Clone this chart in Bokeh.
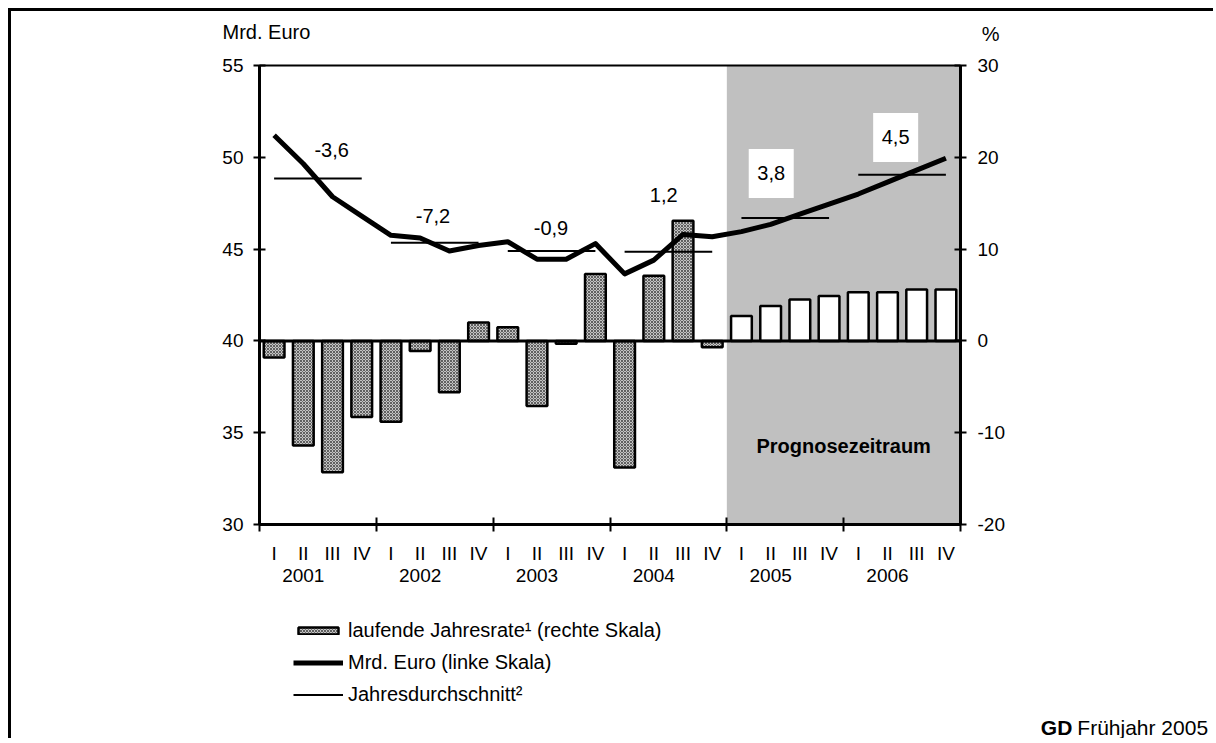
from bokeh.plotting import figure
from bokeh.models import (Range1d, LinearAxis, FixedTicker, BoxAnnotation, LabelSet,
                          Label, ColumnDataSource, Legend, LegendItem)
from bokeh.embed import file_html
from bokeh.resources import INLINE
from bokeh.core.properties import value

# ---------------- data ----------------
years = ["2001", "2002", "2003", "2004", "2005", "2006"]
quarters = ["I", "II", "III", "IV"]
forecast_from = "2005"

# laufende Jahresrate (%, right scale) - observed quarters 2001-2004
rate_hist = [-1.8, -11.4, -14.3, -8.3,
             -8.8, -1.1, -5.6, 2.0,
             1.5, -7.1, -0.3, 7.3,
             -13.8, 7.1, 13.1, -0.7]
# forecast quarters 2005-2006
rate_fcst = [2.7, 3.8, 4.5, 4.9,
             5.3, 5.3, 5.6, 5.6]

# Mrd. Euro (left scale)
level_bn = [51.2, 49.65, 47.85, 46.8,
            45.75, 45.6, 44.9, 45.2,
            45.4, 44.45, 44.45, 45.3,
            43.65, 44.4, 45.8, 45.67,
            45.95, 46.35, 46.9, 47.45,
            48.0, 48.65, 49.3, 49.95]

# Jahresdurchschnitt (Mrd. Euro)
annual_avg = [48.85, 45.35, 44.9, 44.85, 46.7, 49.05]
growth_text = ["-3,6", "-7,2", "-0,9", "1,2", "3,8", "4,5"]

left_ticks = [30, 35, 40, 45, 50, 55]
right_ticks = [-20, -10, 0, 10, 20, 30]

# layout: anchor of the growth labels (quarter units, Mrd. Euro)
growth_pos_x = [2.47, 5.94, 9.98, 13.84, 17.52, 21.78]
growth_pos_y = [50.42, 46.79, 46.14, 47.95, 49.12, 51.08]

FONT = "Liberation Sans"
nq = len(quarters)
n_total = len(years) * nq
f_start = years.index(forecast_from) * nq
L0, L1 = left_ticks[0], left_ticks[-1]
R0, R1 = right_ticks[0], right_ticks[-1]

# ---------------- canvas geometry (px) ----------------
W, H = 1205, 730
PL, PR, PT, PB = 248, 949, 54, 513       # visible plot box inside the canvas
kx = (PR - PL) / n_total
ky = (PB - PT) / (L1 - L0)
x_start, x_end = -PL / kx, (W - PL) / kx
y_start, y_end = L0 - (H - PB) / ky, L1 + PT / ky
# right scale is a linear map of the left one
rs = (R1 - R0) / (L1 - L0)
to_pct = lambda v: R0 + (v - L0) * rs

p = figure(width=W, height=H, x_range=Range1d(x_start, x_end), y_range=Range1d(y_start, y_end),
           output_backend="svg", toolbar_location=None,
           min_border_left=0, min_border_right=0, min_border_top=0, min_border_bottom=0)
p.styles = {"margin-left": "8px", "margin-top": "8px",
            "border-top": "3px solid black", "border-left": "3px solid black",
            "border-right": "0px none", "border-bottom": "0px none"}
p.xgrid.visible = False
p.ygrid.visible = False
p.outline_line_color = None
p.outline_line_alpha = 0
p.outline_line_width = 0
p.background_fill_color = "white"
p.border_fill_color = "white"
p.extra_y_ranges = {"pct": Range1d(to_pct(y_start), to_pct(y_end))}


def style_axis(ax):
    ax.major_label_text_font = FONT
    ax.major_label_text_font_size = "19px"
    ax.major_label_text_color = "black"
    ax.axis_line_width = 3
    ax.axis_line_color = "black"
    ax.major_tick_line_width = 2
    ax.major_tick_line_color = "black"
    ax.major_tick_in = 6
    ax.major_tick_out = 6
    ax.minor_tick_line_color = None


yl = p.yaxis[0]
yl.fixed_location = 0
yl.bounds = (L0, L1)
yl.ticker = FixedTicker(ticks=left_ticks)
yl.major_label_overrides = {t: str(t) for t in left_ticks}
style_axis(yl)
yl.major_label_standoff = 10

yr = LinearAxis(y_range_name="pct", ticker=FixedTicker(ticks=right_ticks),
                fixed_location=n_total, bounds=(R0, R1),
                major_label_overrides={t: str(t) for t in right_ticks})
style_axis(yr)
yr.major_label_standoff = 11
p.add_layout(yr, "right")

# bottom axis: quarter labels as major labels, year boundaries as minor ticks
q_centers = [i + 0.5 for i in range(n_total)]
xa = p.xaxis[0]
xa.fixed_location = L0
xa.bounds = (0, n_total)
xa.ticker = FixedTicker(ticks=q_centers, minor_ticks=list(range(0, n_total + 1, nq)))
xa.major_label_overrides = {c: quarters[i % nq] for i, c in enumerate(q_centers)}
style_axis(xa)
xa.major_tick_in = 0
xa.major_tick_out = 0
xa.major_tick_line_color = None
xa.minor_tick_line_color = "black"
xa.minor_tick_line_width = 2
xa.minor_tick_in = 7
xa.minor_tick_out = 7
xa.major_label_standoff = 11

y_centers = [k * nq + 1.5 for k in range(len(years))]
ya = LinearAxis(fixed_location=L0, ticker=FixedTicker(ticks=y_centers),
                major_label_overrides={c: years[k] for k, c in enumerate(y_centers)})
style_axis(ya)
ya.axis_line_color = None
ya.major_tick_line_color = None
ya.major_tick_in = 0
ya.major_tick_out = 0
ya.major_label_standoff = 44
p.add_layout(ya, "below")

# top edge of the plot box
ta = LinearAxis(fixed_location=L1, bounds=(0, n_total), ticker=FixedTicker(ticks=[]))
ta.axis_line_width = 2
ta.axis_line_color = "black"
ta.major_tick_line_color = None
ta.minor_tick_line_color = None
p.add_layout(ta, "above")

# forecast shading
p.add_layout(BoxAnnotation(left=f_start, right=n_total, bottom=L0, top=L1, fill_color="#c0c0c0",
                           fill_alpha=1, line_color=None, level="underlay"))

# bars
hist_src = ColumnDataSource(dict(x=[i + 0.5 for i in range(len(rate_hist))], top=rate_hist))
fc_src = ColumnDataSource(dict(x=[f_start + i + 0.5 for i in range(len(rate_fcst))], top=rate_fcst))
bars = p.vbar(x="x", top="top", bottom=0, width=0.71, source=hist_src, y_range_name="pct",
              fill_color="#c4c4c4", hatch_pattern="diagonal_cross", hatch_color="#606060",
              hatch_scale=3, hatch_weight=1, line_color="black", line_width=2.5)
p.vbar(x="x", top="top", bottom=0, width=0.71, source=fc_src, y_range_name="pct",
       fill_color="white", line_color="black", line_width=2.5)

# zero line of the right scale
p.segment(x0=[0], x1=[n_total], y0=[0], y1=[0], y_range_name="pct", line_color="black",
          line_width=3)

# Mrd. Euro line
line_src = ColumnDataSource(dict(x=q_centers, y=level_bn))
line_r = p.line("x", "y", source=line_src, line_color="black", line_width=5, line_join="round")

# annual averages
avg_src = ColumnDataSource(dict(x0=[k * nq + 0.5 for k in range(len(years))],
                                x1=[k * nq + nq - 0.5 for k in range(len(years))],
                                y=annual_avg))
avg_r = p.segment(x0="x0", x1="x1", y0="y", y1="y", source=avg_src, line_color="black",
                  line_width=2)

# white boxes behind forecast growth labels
box_idx = [k for k in range(len(years)) if k * nq >= f_start]
p.rect(x=[growth_pos_x[k] for k in box_idx], y=[growth_pos_y[k] for k in box_idx],
       width=45, height=49, width_units="screen", height_units="screen",
       fill_color="white", line_color=None)

g_src = ColumnDataSource(dict(x=growth_pos_x, y=growth_pos_y, t=growth_text))
p.add_layout(LabelSet(x="x", y="y", text="t", source=g_src, text_align="center",
                      text_baseline="middle", text_font=value(FONT), text_font_size="20px",
                      text_color="black"))

# texts
p.add_layout(Label(x=-1.267, y=56.85, text="Mrd. Euro", text_align="left", text_baseline="middle",
                   text_font=FONT, text_font_size="20px", text_color="black"))
p.add_layout(Label(x=25.03, y=56.73, text="%", text_align="center", text_baseline="middle",
                   text_font=FONT, text_font_size="20px", text_color="black"))
p.add_layout(Label(x=(f_start + n_total) / 2, y=-11.5, y_range_name="pct", text="Prognosezeitraum",
                   text_align="center", text_baseline="middle", text_font=FONT,
                   text_font_size="20px", text_font_style="bold", text_color="black"))
p.add_layout(Label(x=27.83, y=18.95, text="GD", text_align="right", text_baseline="middle",
                   text_font=FONT, text_font_size="21px", text_font_style="bold", text_color="black"))
p.add_layout(Label(x=28.0, y=18.95, text="Frühjahr 2005", text_align="left", text_baseline="middle",
                   text_font=FONT, text_font_size="21px", text_color="black"))

# legend
legend = Legend(items=[LegendItem(label="laufende Jahresrate¹ (rechte Skala)", renderers=[bars]),
                       LegendItem(label="Mrd. Euro (linke Skala)", renderers=[line_r]),
                       LegendItem(label="Jahresdurchschnitt²", renderers=[avg_r])],
                location=(282, 35), orientation="vertical", glyph_width=50, glyph_height=9,
                label_height=20, label_standoff=5, spacing=9, padding=0, margin=0,
                border_line_color=None, background_fill_alpha=0,
                label_text_font=FONT, label_text_font_size="20px", label_text_color="black")
p.add_layout(legend)

open("out.html", "w").write(file_html(p, INLINE))
